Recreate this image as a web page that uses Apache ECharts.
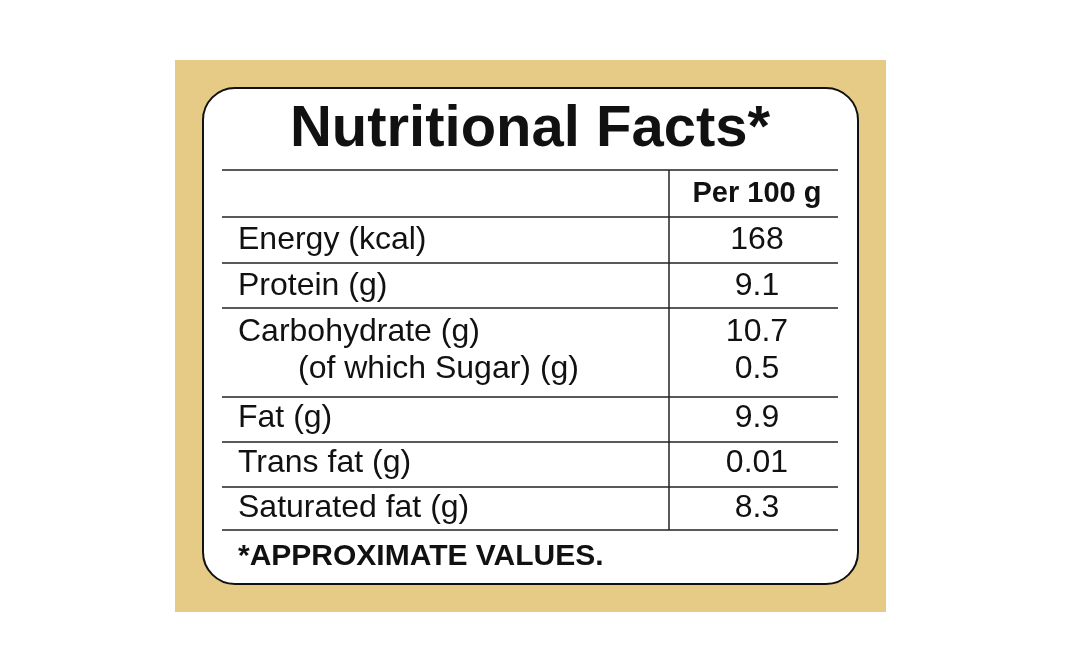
<!DOCTYPE html>
<html><head><meta charset="utf-8">
<script src="https://cdn.jsdelivr.net/npm/echarts@6/dist/echarts.min.js"></script>
<style>html,body{margin:0;padding:0;background:#fff}#c{width:1068px;height:671px}</style>
</head><body><div id="c"></div>
<script>
const title = "Nutritional Facts*";
const header = "Per 100 g";
const nutrients = ["Energy (kcal)", "Protein (g)", "Carbohydrate (g)", "(of which Sugar) (g)", "Fat (g)", "Trans fat (g)", "Saturated fat (g)"];
const values = ["168", "9.1", "10.7", "0.5", "9.9", "0.01", "8.3"];
const indent = [0, 0, 0, 1, 0, 0, 0];
const footnote = "*APPROXIMATE VALUES.";

const rowY = [240, 286, 332, 369, 418, 463, 508];
const lines = [170, 217, 263, 308, 397, 442, 487, 530];
const font = '"Liberation Sans", Arial, sans-serif';
const g = [];
g.push({type:'rect', shape:{x:175,y:60,width:711,height:552}, style:{fill:'#e6cb86'}});
g.push({type:'rect', shape:{x:203,y:88,width:655,height:496,r:32}, style:{fill:'#fff',stroke:'#111',lineWidth:2}});
g.push({type:'text', x:530, y:130, style:{text:title, font:'bold 58px '+font, fill:'#111', align:'center', verticalAlign:'middle'}});
lines.forEach(y=>g.push({type:'line', shape:{x1:222,y1:y,x2:838,y2:y}, style:{stroke:'#222',lineWidth:1.5}}));
g.push({type:'line', shape:{x1:669,y1:170,x2:669,y2:530}, style:{stroke:'#222',lineWidth:1.5}});
g.push({type:'text', x:757, y:194, style:{text:header, font:'bold 29px '+font, fill:'#111', align:'center', verticalAlign:'middle'}});
nutrients.forEach((n,i)=>{
  g.push({type:'text', x:238+indent[i]*60, y:rowY[i], style:{text:n, font:'32px '+font, fill:'#111', verticalAlign:'middle'}});
  g.push({type:'text', x:757, y:rowY[i], style:{text:values[i], font:'32px '+font, fill:'#111', align:'center', verticalAlign:'middle'}});
});
g.push({type:'text', x:238, y:557, style:{text:footnote, font:'bold 30px '+font, fill:'#111', verticalAlign:'middle'}});
const chart = echarts.init(document.getElementById('c'));
chart.setOption({animation:false, graphic:g});
</script></body></html>
